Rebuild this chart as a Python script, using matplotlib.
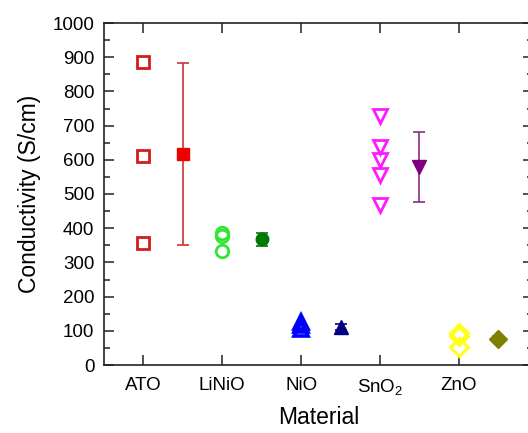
import matplotlib
matplotlib.use("Agg")
import matplotlib.pyplot as plt
from matplotlib.ticker import MultipleLocator

plt.rcParams['font.family'] = ['Liberation Sans', 'DejaVu Sans']
plt.rcParams['mathtext.fontset'] = 'custom'
plt.rcParams['mathtext.rm'] = 'Liberation Sans'

# ---- data ----
materials = ["ATO", "LiNiO", "NiO", "SnO$_2$", "ZnO"]
ato_vals = [886, 611, 357]
linio_vals = [385, 376, 334]
nio_vals = [126, 116, 106]
sno2_vals = [729, 638, 600, 556, 468]
zno_vals = [94, 86, 52]
raw_values = [ato_vals, linio_vals, nio_vals, sno2_vals, zno_vals]
mean_values = [617, 367, 111, 578, 76]
err_values = [266, 20, 8, 102, 9]

open_colors = ["#d41c1c", "#33e633", "#0000ff", "#ff1aff", "#ffff1a"]
mean_colors = ["#ee0000", "#007a00", "#000080", "#800080", "#808000"]
err_colors = ["#cc3333", "#007a00", "#000080", "#8a2a8a", "#808000"]
markers = ["s", "o", "^", "v", "D"]
msizes = [9, 9, 10, 10, 9]
medgew = [2.0, 2.0, 2.6, 2.0, 2.2]

fig = plt.figure(figsize=(5.28, 4.33), dpi=100)
ax = fig.add_axes([104/528, (433-365)/433, (533-104)/528, (365-23)/433])

for i, (vals, col, mcol, ecol, mk, ms) in enumerate(
        zip(raw_values, open_colors, mean_colors, err_colors, markers, msizes)):
    xpos = i + 1
    ax.plot([xpos]*len(vals), vals, linestyle='none', marker=mk, ms=ms,
            mfc='none', mec=col, mew=medgew[i], zorder=3)
    ax.errorbar(xpos + 0.5, mean_values[i], yerr=err_values[i], fmt=mk, ms=ms,
                color=mcol, mfc=mcol, mec=mcol, ecolor=ecol, elinewidth=1.2,
                capsize=4.5, capthick=1.2, zorder=4)

ax.set_xlim(0.5, 5.94)
ax.set_ylim(0, 1000)
ax.set_xticks(range(1, len(materials)+1))
ax.set_xticklabels(materials)
ax.yaxis.set_major_locator(MultipleLocator(100))
ax.yaxis.set_minor_locator(MultipleLocator(50))

ax.tick_params(axis='both', which='major', direction='in', length=7, width=1.1,
               labelsize=13.5, top=True, right=True, color='#222222')
ax.tick_params(axis='y', which='minor', direction='in', length=4, width=1.1,
               right=True, color='#222222')
ax.tick_params(axis='y', which='major', pad=7)
ax.tick_params(axis='x', which='major', pad=9)
for s in ax.spines.values():
    s.set_linewidth(1.2)
    s.set_color('#222222')

ax.set_ylabel("Conductivity (S/cm)", fontsize=16.5, labelpad=8)
ax.set_xlabel("Material", fontsize=16.5, labelpad=6)

fig.savefig("out.png", dpi=100)
